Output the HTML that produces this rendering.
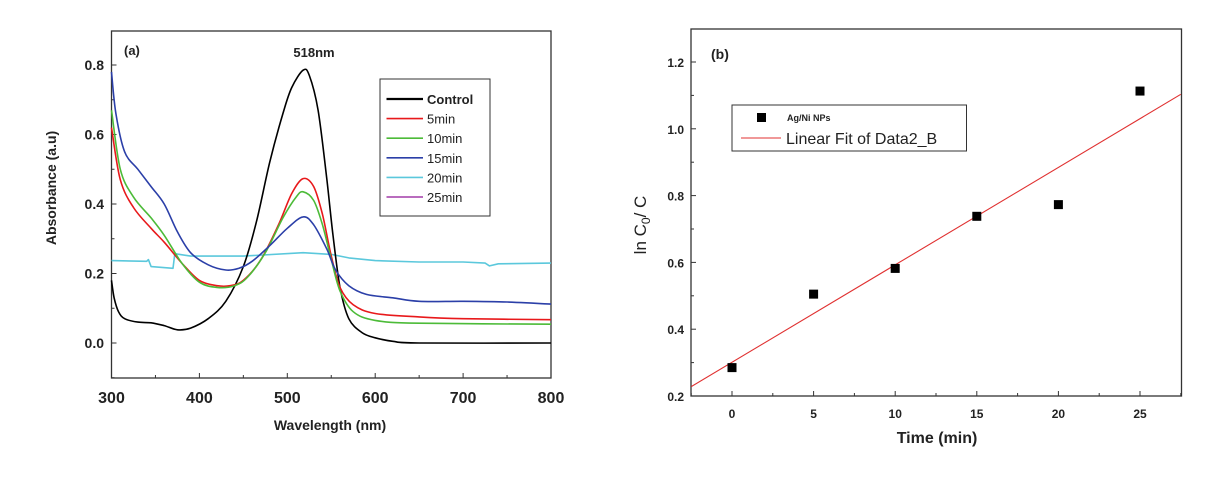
<!DOCTYPE html>
<html><head><meta charset="utf-8"><style>
body{margin:0;background:#fff;width:1210px;height:478px;overflow:hidden}
svg{display:block;font-family:"Liberation Sans",Arial,sans-serif}
</style></head><body>
<svg id="c" width="1210" height="478"></svg>
<script>
const wlTicks=[300,400,500,600,700,800];
const absTicks=[0.0,0.2,0.4,0.6,0.8];
const seriesNames=["Control","5min","10min","15min","20min","25min"];
const seriesColors=["#000000","#e8191b","#4cbb38","#2b3fa8","#5bc8dc","#a23ba8"];
const control=[[300,0.18],[303,0.13],[308,0.09],[315,0.07],[330,0.06],[345,0.058],[360,0.05],[375,0.038],[390,0.043],[410,0.07],[430,0.12],[450,0.22],[465,0.35],[480,0.52],[495,0.66],[505,0.735],[518,0.785],[525,0.77],[535,0.67],[545,0.47],[552,0.31],[560,0.16],[570,0.07],[585,0.03],[600,0.015],[620,0.005],[650,0],[800,0]];
const min5=[[300,0.62],[310,0.47],[325,0.39],[345,0.33],[360,0.29],[380,0.23],[400,0.18],[420,0.165],[435,0.165],[450,0.18],[470,0.24],[490,0.34],[505,0.43],[518,0.473],[530,0.45],[540,0.37],[550,0.25],[560,0.16],[575,0.11],[600,0.085],[650,0.075],[700,0.07],[800,0.067]];
const min10=[[300,0.67],[310,0.5],[325,0.42],[345,0.36],[360,0.31],[380,0.23],[400,0.175],[420,0.16],[440,0.165],[455,0.19],[475,0.26],[495,0.36],[510,0.42],[518,0.435],[530,0.41],[540,0.34],[550,0.24],[560,0.15],[575,0.09],[600,0.065],[650,0.057],[800,0.054]];
const min15=[[300,0.78],[305,0.66],[315,0.55],[330,0.5],[345,0.45],[360,0.4],[375,0.32],[390,0.26],[410,0.225],[430,0.21],[445,0.215],[460,0.235],[480,0.28],[500,0.33],[518,0.363],[530,0.34],[545,0.27],[555,0.21],[570,0.165],[590,0.14],[620,0.13],[650,0.12],[700,0.12],[750,0.118],[800,0.112]];
const min20=[[300,0.237],[340,0.235],[342,0.24],[345,0.22],[370,0.215],[372,0.257],[390,0.25],[450,0.25],[518,0.26],[550,0.255],[570,0.245],[600,0.237],[650,0.233],[700,0.233],[725,0.23],[730,0.222],[740,0.228],[800,0.23]];
const timeTicks=[0,5,10,15,20,25];
const lnTicks=[0.2,0.4,0.6,0.8,1.0,1.2];
const times=[0,5,10,15,20,25];
const lnVals=[0.285,0.505,0.582,0.738,0.773,1.113];
const fitSlope=0.02917, fitIntercept=0.301;

const NS="http://www.w3.org/2000/svg";
const svg=document.getElementById('c');
function mk(t,a,p){const e=document.createElementNS(NS,t);for(const k in a)e.setAttribute(k,a[k]);(p||svg).appendChild(e);return e;}
const ax=v=>111.5+(v-300)*(551-111.5)/500;
const ay=v=>343-v*(343-65)/0.8;
const bx=v=>732+v*(1140-732)/25;
const by=v=>396-(v-0.2)*(396-62)/1.0;
function smooth(pts){
  let d='M'+pts[0][0].toFixed(1)+','+pts[0][1].toFixed(1);
  for(let i=0;i<pts.length-1;i++){
    const p0=pts[Math.max(0,i-1)],p1=pts[i],p2=pts[i+1],p3=pts[Math.min(pts.length-1,i+2)];
    const c1x=p1[0]+(p2[0]-p0[0])/6,c1y=p1[1]+(p2[1]-p0[1])/6;
    const c2x=p2[0]-(p3[0]-p1[0])/6,c2y=p2[1]-(p3[1]-p1[1])/6;
    d+=' C'+c1x.toFixed(1)+','+c1y.toFixed(1)+' '+c2x.toFixed(1)+','+c2y.toFixed(1)+' '+p2[0].toFixed(1)+','+p2[1].toFixed(1);
  }
  return d;
}

let g=mk('g',{});


let fr=mk('rect',{x:111.5,y:31,width:439.5,height:347,fill:'none',stroke:'#333','stroke-width':1.3},g);


wlTicks.forEach(v=>{
  mk('line',{x1:ax(v),x2:ax(v),y1:378,y2:373,stroke:'#333'},g);
  const t=mk('text',{x:ax(v),y:403,'text-anchor':'middle','font-size':16,'font-weight':'bold',fill:'#222'},g);t.textContent=v;
  
  
});
[350,450,550,650,750].forEach(v=>mk('line',{x1:ax(v),x2:ax(v),y1:378,y2:375,stroke:'#333'},g));
absTicks.forEach(v=>{
  mk('line',{x1:111.5,x2:116.5,y1:ay(v),y2:ay(v),stroke:'#333'},g);
  const t=mk('text',{x:104,y:ay(v)+5,'text-anchor':'end','font-size':14,'font-weight':'bold',fill:'#222'},g);t.textContent=v.toFixed(1);
  
  
});
[-0.1,0.1,0.3,0.5,0.7].forEach(v=>mk('line',{x1:111.5,x2:114.5,y1:ay(v),y2:ay(v),stroke:'#333'},g));
let t=mk('text',{x:330,y:430,'text-anchor':'middle','font-size':14,'font-weight':'bold',fill:'#222'},g);t.textContent='Wavelength (nm)';


t=mk('text',{x:0,y:0,transform:'translate(56,188) rotate(-90)','text-anchor':'middle','font-size':14,'font-weight':'bold',fill:'#222'},g);t.textContent='Absorbance (a.u)';


t=mk('text',{x:124,y:55,'font-size':13,'font-weight':'bold',fill:'#222'},g);t.textContent='(a)';


t=mk('text',{x:314,y:57,'text-anchor':'middle','font-size':13,'font-weight':'bold',fill:'#222'},g);t.textContent='518nm';


const allSeries=[control,min5,min10,min15,min20];
[min20,control,min5,min10,min15].forEach(s=>{
  const i=allSeries.indexOf(s);
  const pts=s.map(p=>[ax(p[0]),ay(p[1])]);
  const d=(i==4)?pts.map((p,k)=>(k?'L':'M')+p[0].toFixed(1)+','+p[1].toFixed(1)).join(' '):smooth(pts);
  const p=mk('path',{d:d,fill:'none',stroke:seriesColors[i],'stroke-width':1.6,'stroke-linejoin':'round'},g);
  
  
});
let lg=mk('g',{},g);


mk('rect',{x:380,y:79,width:110,height:137,fill:'#fff',stroke:'#333'},lg);
seriesNames.forEach((n,i)=>{
  const y=99+i*19.6;
  mk('line',{x1:386.5,x2:423,y1:y,y2:y,stroke:seriesColors[i],'stroke-width':i==0?2.2:1.6},lg);
  const tt=mk('text',{x:427,y:y+5,'font-size':13,'font-weight':i==0?'bold':'normal',fill:'#222'},lg);tt.textContent=n;
  
  
});

g=mk('g',{});


fr=mk('rect',{x:691,y:29,width:490.5,height:367,fill:'none',stroke:'#333','stroke-width':1.3},g);


timeTicks.forEach(v=>{
  mk('line',{x1:bx(v),x2:bx(v),y1:396,y2:391,stroke:'#333'},g);
  const tt=mk('text',{x:bx(v),y:418,'text-anchor':'middle','font-size':12,'font-weight':'bold',fill:'#222'},g);tt.textContent=v;
  
  
});
[-2.5,2.5,7.5,12.5,17.5,22.5,27.5].forEach(v=>mk('line',{x1:bx(v),x2:bx(v),y1:396,y2:393,stroke:'#333'},g));
lnTicks.forEach(v=>{
  mk('line',{x1:691,x2:696,y1:by(v),y2:by(v),stroke:'#333'},g);
  const tt=mk('text',{x:684,y:by(v)+5,'text-anchor':'end','font-size':12,'font-weight':'bold',fill:'#222'},g);tt.textContent=v.toFixed(1);
  
  
});
[0.3,0.5,0.7,0.9,1.1].forEach(v=>mk('line',{x1:691,x2:694,y1:by(v),y2:by(v),stroke:'#333'},g));
t=mk('text',{x:937,y:443,'text-anchor':'middle','font-size':16,'font-weight':'bold',fill:'#222'},g);t.textContent='Time (min)';


t=mk('text',{x:0,y:0,transform:'translate(646,225) rotate(-90)','text-anchor':'middle','font-size':17,fill:'#222'},g);
t.innerHTML='ln C<tspan font-size="12" dy="4">0</tspan><tspan dy="-4">/ C</tspan>';


t=mk('text',{x:711,y:59,'font-size':14,'font-weight':'bold',fill:'#222'},g);t.textContent='(b)';


const fl=mk('line',{x1:bx(-2.5),y1:by(fitIntercept+fitSlope*-2.5),x2:bx(27.5),y2:by(fitIntercept+fitSlope*27.5),stroke:'#e03030','stroke-width':1.1},g);


times.forEach((tv,i)=>{
  const r=mk('rect',{x:bx(tv)-4.5,y:by(lnVals[i])-4.5,width:9,height:9,fill:'#000'},g);
  
  
});
lg=mk('g',{},g);


mk('rect',{x:732,y:105,width:234.5,height:46,fill:'#fff',stroke:'#333'},lg);
mk('rect',{x:757,y:113,width:9,height:9,fill:'#000'},lg);
t=mk('text',{x:787,y:121,'font-size':9,'font-weight':'bold',fill:'#222'},lg);t.textContent='Ag/Ni NPs';


mk('line',{x1:741,x2:781,y1:138,y2:138,stroke:'#e03030','stroke-width':1.1},lg);
t=mk('text',{x:786,y:144,'font-size':16,fill:'#222'},lg);t.textContent='Linear Fit of Data2_B';


</script>
</body></html>
